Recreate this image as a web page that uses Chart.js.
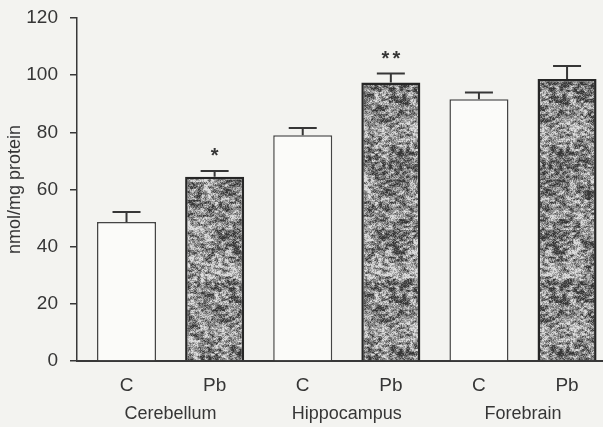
<!DOCTYPE html>
<html>
<head>
<meta charset="utf-8">
<script src="https://cdn.jsdelivr.net/npm/chart.js@4.4.1/dist/chart.umd.min.js"></script>
<style>
  html, body { margin: 0; padding: 0; background: #f3f3f0; overflow: hidden; }
  #wrap { width: 603px; height: 427px; }
</style>
</head>
<body>
<div id="wrap"><canvas id="myChart" width="603" height="427"></canvas></div>
<script>
// brain regions and treatment groups
var regions = ["Cerebellum", "Hippocampus", "Forebrain"];
var groups = ["C", "Pb"];

// nmol/mg protein, mean and error per region
var control = [48.6, 79.0, 91.6];
var controlErr = [3.5, 2.5, 2.3];
var lead = [64.5, 97.4, 98.7];
var leadErr = [2.0, 3.2, 4.5];
var leadStars = ["*", "**", ""];

var yTicks = [0, 20, 40, 60, 80, 100, 120];

var ink = '#363636';
var font = "'Liberation Sans', Arial, sans-serif";

// mottled grey fill for the Pb bars (deterministic hash noise)
function hash(x, y) {
    var h = (x * 374761393 + y * 668265263) | 0;
    h = Math.imul(h ^ (h >>> 13), 1274126177);
    h = h ^ (h >>> 16);
    return (h & 0xffff) / 0xffff;
}
function smooth(x, y, sx, sy, seed) {
    var gx = x / sx, gy = y / sy;
    var x0 = Math.floor(gx), y0 = Math.floor(gy);
    var fx = gx - x0, fy = gy - y0;
    fx = fx * fx * (3 - 2 * fx); fy = fy * fy * (3 - 2 * fy);
    var a = hash(x0, y0 + seed), b = hash(x0 + 1, y0 + seed);
    var c = hash(x0, y0 + 1 + seed), d = hash(x0 + 1, y0 + 1 + seed);
    return (a * (1 - fx) + b * fx) * (1 - fy) + (c * (1 - fx) + d * fx) * fy;
}
function makeTexture() {
    var w = 160, h = 200;
    var c = document.createElement('canvas');
    c.width = w; c.height = h;
    var g = c.getContext('2d');
    var img = g.createImageData(w, h);
    for (var y = 0; y < h; y++) {
        for (var x = 0; x < w; x++) {
            var big = smooth(x, y, 16, 12, 300);
            var mid = smooth(x, y, 3.5, 2.2, 700);
            var fine = hash(x, y + 1234);
            var v = 0.25 * big + 0.45 * mid + 0.3 * fine;
            v = Math.min(1, Math.max(0, (v - 0.5) * 2.1 + 0.52));
            var gray = Math.round(55 + v * 165);
            var i = (y * w + x) * 4;
            img.data[i] = gray; img.data[i + 1] = gray; img.data[i + 2] = gray; img.data[i + 3] = 255;
        }
    }
    g.putImageData(img, 0, 0);
    return c;
}

var ctx = document.getElementById("myChart");
var texture = ctx.getContext('2d').createPattern(makeTexture(), 'repeat');

function points(values, slot) {
    return values.map(function (v, r) { return { x: r * 2 + slot, y: v }; });
}

var errorBars = {
    id: 'errorBars',
    afterDatasetsDraw: function (chart) {
        var c = chart.ctx;
        var y = chart.scales.y;
        var errs = [controlErr, leadErr];
        var vals = [control, lead];
        c.save();
        c.strokeStyle = ink;
        c.lineWidth = 2;
        chart.data.datasets.forEach(function (ds, d) {
            var meta = chart.getDatasetMeta(d);
            meta.data.forEach(function (bar, r) {
                var top = y.getPixelForValue(vals[d][r] + errs[d][r]);
                c.beginPath();
                c.moveTo(bar.x, bar.y);
                c.lineTo(bar.x, top);
                c.moveTo(bar.x - 14, top);
                c.lineTo(bar.x + 14, top);
                c.stroke();
                if (d === 1 && leadStars[r]) {
                    c.fillStyle = ink;
                    c.font = "bold 20px " + font;
                    c.textAlign = 'center';
                    c.textBaseline = 'middle';
                    var s = leadStars[r].split('');
                    s.forEach(function (ch, k) {
                        var dx = (k - (s.length - 1) / 2) * 11;
                        c.fillText(ch, bar.x + dx, top - 14);
                    });
                }
            });
        });
        c.restore();
    }
};

var xMin = -0.562, xMax = 5.408;

var myChart = new Chart(ctx, {
    type: 'bar',
    data: {
        datasets: [{
            label: 'C',
            data: points(control, 0),
            backgroundColor: '#fbfbf9',
            borderColor: '#454545',
            borderWidth: 1.5
        }, {
            label: 'Pb',
            data: points(lead, 1),
            backgroundColor: texture,
            borderColor: '#262626',
            borderWidth: 2.5
        }]
    },
    options: {
        responsive: false,
        animation: false,
        devicePixelRatio: 1,
        grouped: false,
        barPercentage: 0.67,
        categoryPercentage: 1,
        layout: { padding: { top: 18, right: 0, left: 0, bottom: 0 } },
        plugins: {
            legend: { display: false },
            tooltip: { enabled: false }
        },
        scales: {
            x: {
                type: 'linear',
                offset: false,
                min: xMin,
                max: xMax,
                afterBuildTicks: function (scale) {
                    scale.ticks = [0, 1, 2, 3, 4, 5].map(function (v) { return { value: v }; });
                },
                afterFit: function (scale) { scale.height = 37; },
                grid: { display: false, drawTicks: false, offset: false },
                border: { display: true, color: '#383838', width: 2 },
                ticks: {
                    autoSkip: false,
                    maxRotation: 0,
                    padding: 13,
                    color: ink,
                    font: { family: font, size: 19 },
                    callback: function (v) { return groups[v % 2]; }
                }
            },
            x2: {
                type: 'linear',
                position: 'bottom',
                offset: false,
                min: xMin,
                max: xMax,
                afterBuildTicks: function (scale) {
                    scale.ticks = [0.5, 2.5, 4.5].map(function (v) { return { value: v }; });
                },
                afterFit: function (scale) { scale.height = 29; },
                grid: { display: false, drawTicks: false, offset: false },
                border: { display: false },
                ticks: {
                    autoSkip: false,
                    maxRotation: 0,
                    padding: 5,
                    color: ink,
                    font: { family: font, size: 18 },
                    callback: function (v) { return regions[(v - 0.5) / 2]; }
                }
            },
            y: {
                min: 0,
                max: 120,
                afterBuildTicks: function (scale) {
                    scale.ticks = yTicks.map(function (v) { return { value: v }; });
                },
                afterFit: function (scale) {
                    scale.width = 77;
                    scale.paddingTop = 0;
                    scale.paddingBottom = 0;
                },
                grid: { drawOnChartArea: false, tickLength: 7, color: '#383838', lineWidth: 1.5 },
                border: { display: true, color: '#383838', width: 1.5 },
                ticks: {
                    padding: 12,
                    color: ink,
                    font: { family: font, size: 19 }
                },
                title: {
                    display: true,
                    text: 'nmol/mg protein',
                    color: ink,
                    font: { family: font, size: 18 },
                    padding: { top: 4, bottom: 0 }
                }
            }
        }
    },
    plugins: [errorBars]
});
</script>
</body>
</html>
